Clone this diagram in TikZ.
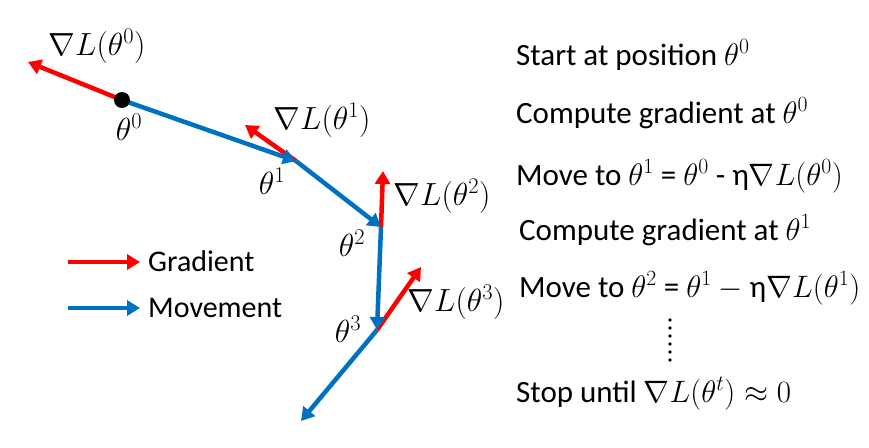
\RequirePackage{fix-cm}
\documentclass[tikz,border=0pt]{standalone}
\usepackage{fontspec}
\setmainfont{Carlito}
\usetikzlibrary{arrows.meta}
\definecolor{gred}{RGB}{255,0,0}
\definecolor{mblue}{RGB}{0,112,192}
\tikzset{
  grad/.style={draw=gred,line width=4.5pt,-{Triangle[length=13pt,width=15pt]}},
  move/.style={draw=mblue,line width=4.5pt,-{Triangle[length=13pt,width=15pt]}},
  lbl/.style={font=\fontsize{32}{36}\selectfont,inner sep=0pt},
  txt/.style={font=\fontsize{31}{36}\selectfont,anchor=base west,inner sep=0pt},
  leg/.style={font=\fontsize{30}{36}\selectfont,anchor=base west,inner sep=0pt}
}
\begin{document}
\begin{tikzpicture}[x=1pt,y=-1pt]
\useasboundingbox (0,0) rectangle (869,447);
% points
\coordinate (t0) at (122,100);
\coordinate (t1) at (296,161);
\coordinate (t2) at (381,227);
\coordinate (t3) at (377,330);
\coordinate (g0) at (28,62);
\coordinate (g1) at (245,125);
\coordinate (g2) at (383,171);
\coordinate (g3) at (421,267);
\coordinate (end) at (301,421);
% gradients
\draw[grad] (t0) -- (g0);
\draw[grad] (t1) -- (g1);
\draw[grad] (t2) -- (g2);
\draw[grad] (t3) -- (g3);
% movements
\draw[move] (t0) -- (t1);
\draw[move] (t1) -- (t2);
\draw[move] (t2) -- (t3);
\draw[move] (t3) -- (end);
\fill[black] (t0) circle (8pt);
% labels
\node[lbl] (lg0) at (97,46) {$\nabla L(\theta^0)$};
\node[lbl] (lt0) at (129,127) {$\theta^0$};
\node[lbl] (lg1) at (322,120) {$\nabla L(\theta^1)$};
\node[lbl] (lt1) at (272,181) {$\theta^1$};
\node[lbl] (lg2) at (442,196) {$\nabla L(\theta^2)$};
\node[lbl] (lt2) at (352,243) {$\theta^2$};
\node[lbl] (lg3) at (456,302) {$\nabla L(\theta^3)$};
\node[lbl] (lt3) at (348,329) {$\theta^3$};
% legend
\coordinate (lr0) at (68,262); \coordinate (lr1) at (140,262);
\coordinate (lb0) at (68,308); \coordinate (lb1) at (140,308);
\draw[grad] (lr0) -- (lr1);
\draw[move] (lb0) -- (lb1);
\node[leg] (legG) at (148,271) {Gradient};
\node[leg] (legM) at (148,317) {Movement};
% right text
\node[txt] (s1) at (516,65) {Start at position $\theta^0$};
\node[txt] (s2) at (516,123) {Compute gradient at $\theta^0$};
\node[txt] (s3) at (516,185) {Move to $\theta^1$ = $\theta^0$ - η$\nabla L(\theta^0)$};
\node[txt] (s4) at (519,240) {Compute gradient at $\theta^1$};
\node[txt] (s5) at (519,297) {Move to $\theta^2$ = $\theta^1 -{}$η$\nabla L(\theta^1)$};
\foreach \yy in {320,328,336,344,352,360} \fill (670,\yy) circle (1.8pt);
\node[txt] (s6) at (516,402) {Stop until $\nabla L(\theta^t)\approx 0$};
\end{tikzpicture}
\end{document}
